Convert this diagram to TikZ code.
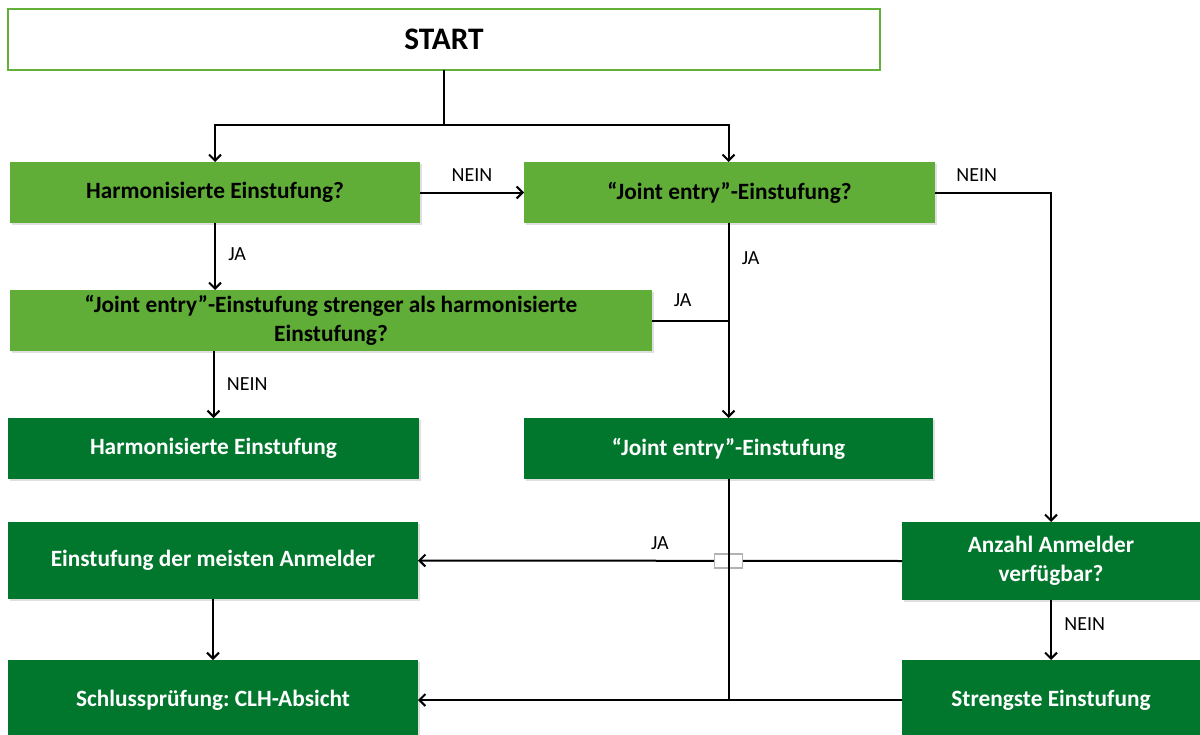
\documentclass[tikz,border=0pt]{standalone}
\usepackage{fontspec}
\setmainfont{Carlito}
\frenchspacing
\usetikzlibrary{arrows.meta,shadows}
\definecolor{lgreen}{HTML}{60AE38}
\definecolor{dgreen}{HTML}{00772D}
\definecolor{bordergreen}{HTML}{62B03A}
\tikzset{
  box/.style={inner sep=0pt, outer sep=0pt, align=center, font=\fontsize{17.5}{21.5}\selectfont\bfseries,
    drop shadow={opacity=0.25, shadow xshift=1.5pt, shadow yshift=-1.5pt}},
  lbox/.style={box, fill=lgreen, text=black},
  dbox/.style={box, fill=dgreen, text=white},
  conn/.style={line width=1.5pt, black},
  arr/.style={conn, -{Straight Barb[length=4.5pt,width=9pt,line width=1.5pt]}},
  lab/.style={font=\fontsize{15}{18}\selectfont, text=black},
}
\begin{document}
\begin{tikzpicture}[x=0.75pt,y=-0.75pt]
\useasboundingbox (0,0) rectangle (1200,735);
\node[draw=bordergreen, line width=1.8pt, fill=white, inner sep=0pt, outer sep=0pt, minimum width=654pt, minimum height=45.75pt, font=\fontsize{23.5}{28}\selectfont\bfseries] (start) at (444,39.5) {START};
\node[lbox, minimum width=307.5pt, minimum height=45.75pt] (h) at (215,192.5) {Harmonisierte Einstufung?};
\node[lbox, minimum width=308.25pt, minimum height=45.75pt] (j) at (729.5,192.5) {“Joint entry”-Einstufung?};
\node[lbox, minimum width=481.5pt, minimum height=45.75pt] (q) at (331,320.5) {“Joint entry”-Einstufung strenger als harmonisierte\\Einstufung?};
\node[dbox, minimum width=308.25pt, minimum height=45.75pt] (ha) at (213.5,448.5) {Harmonisierte Einstufung};
\node[dbox, minimum width=306.75pt, minimum height=45.75pt] (je) at (728.5,448.5) {“Joint entry”-Einstufung};
\node[dbox, minimum width=223.5pt, minimum height=58.5pt] (anz) at (1051,561) {Anzahl Anmelder\\verfügbar?};
\node[dbox, minimum width=307.5pt, minimum height=57.75pt] (meist) at (213,560.5) {Einstufung der meisten Anmelder};
\node[dbox, minimum width=307.5pt, minimum height=60pt] (schl) at (213,700) {Schlussprüfung: CLH-Absicht};
\node[dbox, minimum width=223.5pt, minimum height=60pt] (str) at (1051,700) {Strengste Einstufung};

\draw[conn] (start.south) -- ++(0,55) coordinate (s1);
\draw[arr] (s1) -| (h.north);
\draw[arr] (s1) -| (je.north |- j.north);
\draw[arr] (h.east) -- node[lab, above=4pt] {NEIN} (j.west);
\draw[arr] (j.east) -| node[lab, pos=0.18, above=4pt] {NEIN} (anz.north);
\draw[arr] (h.south) -- node[lab, right=6pt, pos=0.47] {JA} (h.south |- q.north);
\draw[arr] (je.north |- j.south) -- node[lab, right=6pt, pos=0.18] {JA} (je.north);
\draw[conn] (q.east) -- node[lab, above=6pt, pos=0.4] {JA} (q.east -| je.north);
\draw[arr] (ha.north |- q.south) -- node[lab, right=6pt, pos=0.5] {NEIN} (ha.north);
\draw[arr] (anz.west) -- node[lab, above=4pt, pos=0.5] {JA} (meist.east);
\node[draw=gray!60, fill=white, line width=0.8pt, minimum width=21pt, minimum height=10.5pt, inner sep=0pt] (bridge) at (je.south |- anz.west) {};
\draw[arr] (je.south) |- (schl.east);
\draw[conn] (str.west) -- (str.west -| je.south);
\draw[arr] (meist.south) -- (schl.north);
\draw[arr] (anz.south) -- node[lab, right=6pt, pos=0.4] {NEIN} (str.north);
\end{tikzpicture}
\end{document}
